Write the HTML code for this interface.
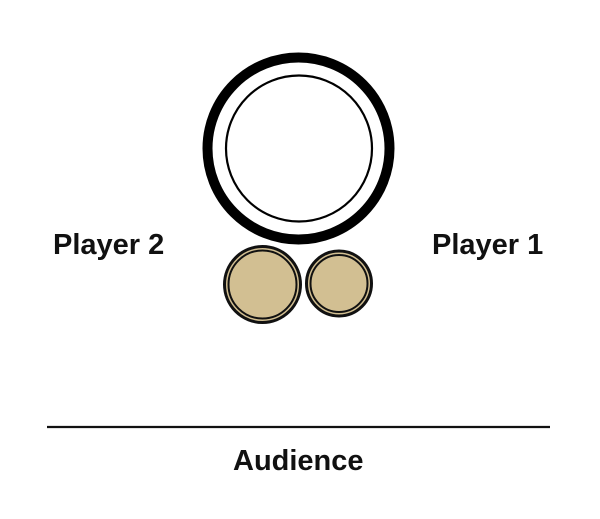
<!DOCTYPE html>
<html><head><meta charset="utf-8"><style>
html,body{margin:0;padding:0;background:#fff;}
svg{display:block;}
text{font-family:"Liberation Sans",sans-serif;font-weight:bold;font-size:29px;fill:#111;}
</style></head><body>
<svg width="600" height="519" viewBox="0 0 600 519" xmlns="http://www.w3.org/2000/svg">
<circle cx="298.5" cy="148.5" r="91" fill="#fff" stroke="#000" stroke-width="10"/>
<circle cx="299" cy="148.5" r="73" fill="none" stroke="#000" stroke-width="2.2"/>
<circle cx="262.5" cy="284.5" r="38" fill="#d2bf92" stroke="#111" stroke-width="3"/>
<circle cx="262.5" cy="284.5" r="34" fill="none" stroke="#111" stroke-width="2"/>
<circle cx="339" cy="283.5" r="32.5" fill="#d2bf92" stroke="#111" stroke-width="3"/>
<circle cx="339" cy="283.5" r="28.5" fill="none" stroke="#111" stroke-width="2"/>
<text x="53" y="254">Player 2</text>
<text x="432" y="254">Player 1</text>
<line x1="47" y1="427" x2="550" y2="427" stroke="#111" stroke-width="2.2"/>
<text x="233" y="470">Audience</text>
</svg>
</body></html>
